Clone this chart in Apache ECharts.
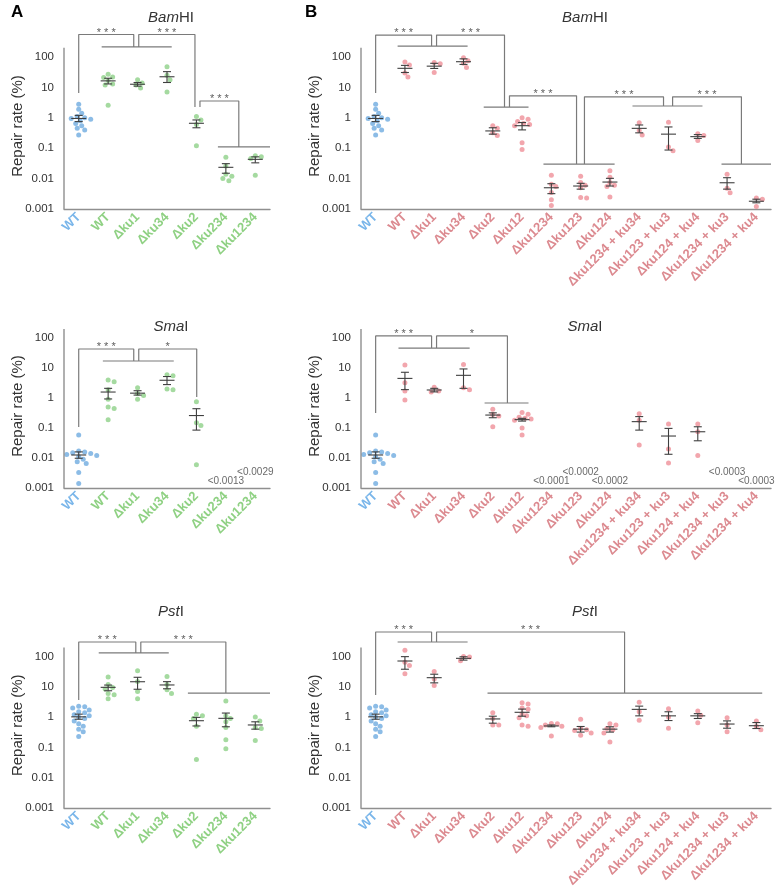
<!DOCTYPE html>
<html><head><meta charset="utf-8">
<script src="https://cdn.jsdelivr.net/npm/echarts@6/dist/echarts.min.js"></script>
<style>html,body{margin:0;padding:0;background:#fff}#c{width:775px;height:895px}</style>
</head><body><div id="c"></div>
<script>
// ---------- categories ----------
const catsA = ['WT','WT','Δku1','Δku34','Δku2','Δku234','Δku1234'];
const catsB = ['WT','WT','Δku1','Δku34','Δku2','Δku12','Δku1234','Δku123','Δku124',
  'Δku1234 + ku34','Δku123 + ku3','Δku124 + ku4','Δku1234 + ku3','Δku1234 + ku4'];
const yTicks = ['0.001','0.01','0.1','1','10','100'];

// ---------- BamHI ----------
const wtBam = [2.8,1.9,1.4,1.1,1.0,0.95,0.9,0.8,0.65,0.55,0.45,0.4,0.27];
const bamA_pts = [wtBam,[27,22,21,17,13,12,2.6],[18,14,12,9.5],[48,25,18,7],[1.1,0.85,0.6,0.12],
  [0.05,0.026,0.014,0.012,0.010,0.0085],[0.056,0.052,0.046,0.013]];
const bamA_mean = [0.95,16.4,12.7,22.4,0.66,0.0235,0.043];
const bamA_lo   = [0.75,13,11,14.5,0.47,0.015,0.033];
const bamA_hi   = [1.2,20,14.5,33,0.85,0.031,0.052];
const bamB_pts = [wtBam,[68,55,30,22],[66,60,31],[95,75,62,45],[0.55,0.45,0.32,0.26],
  [1.0,0.9,0.75,0.65,0.6,0.55,0.15,0.09],[0.013,0.0065,0.0055,0.0035,0.002,0.0013],
  [0.012,0.0075,0.006,0.005,0.0024,0.0023],[0.018,0.011,0.0075,0.006,0.0055,0.0025],
  [0.69,0.38,0.27],[0.71,0.11,0.083],[0.3,0.26,0.18],[0.014,0.0048,0.0034],[0.0023,0.0021,0.0012]];
const bamB_mean = [0.95,42.4,50,70,0.37,0.55,0.005,0.0057,0.0077,0.45,0.29,0.24,0.0073,0.0018];
const bamB_lo   = [0.75,30.9,42,57,0.29,0.40,0.0032,0.0045,0.0057,0.32,0.087,0.21,0.0045,0.0016];
const bamB_hi   = [1.2,53,62,87,0.47,0.70,0.0068,0.007,0.0102,0.58,0.5,0.28,0.0107,0.0021];

// ---------- SmaI ----------
const wtSma = [0.058,0.017,0.016,0.015,0.014,0.013,0.012,0.011,0.009,0.0075,0.0065,0.0033,0.0014];
const smaA_pts = [wtSma,[4.0,3.5,1.9,0.9,0.5,0.45,0.19],[2.2,1.4,1.2,0.9],[6.0,5.5,2.0,1.9],
  [0.75,0.15,0.12,0.006],[],[]];
const smaA_mean = [0.0126,1.58,1.45,3.9,0.26,null,null];
const smaA_lo   = [0.0098,0.93,1.25,2.8,0.085,null,null];
const smaA_hi   = [0.016,2.1,1.75,5.2,0.44,null,null];
const smaB_pts = [wtSma,[12.5,3.2,1.7,0.85],[2.3,1.7,1.6],[13,2.2,1.9],[0.42,0.28,0.25,0.11],
  [0.33,0.29,0.23,0.21,0.2,0.18,0.1,0.058],[],[],[],
  [0.3,0.18,0.027],[0.135,0.02,0.0068],[0.135,0.075,0.012],[],[]];
const smaB_mean = [0.0126,4.5,1.85,5.7,0.27,0.19,null,null,null,0.163,0.054,0.075,null,null];
const smaB_lo   = [0.0098,1.9,1.6,2.1,0.22,0.17,null,null,null,0.085,0.0133,0.0375,null,null];
const smaB_hi   = [0.016,7.2,2.1,9.3,0.32,0.21,null,null,null,0.24,0.097,0.11,null,null];
const smaA_notes = ['','','','','','<0.0013','<0.0029'];
const smaB_notes = ['','','','','','','<0.0001','<0.0002','<0.0002','','','','<0.0003','<0.0003'];

// ---------- PstI ----------
const wtPst = [2.3,2.2,2.0,1.7,1.5,1.4,1.2,1.1,1.0,0.9,0.75,0.6,0.5,0.4,0.33,0.23];
const pstA_pts = [wtPst,[21,12,9.5,8.5,6,5.5,4],[34,15,7,4],[22,12,8,6],[1.25,1.1,0.9,0.5,0.04],
  [3.4,1.1,0.9,0.7,0.45,0.18,0.09],[1.0,0.75,0.45,0.42,0.17]];
const pstA_mean = [1.02,9.6,14.7,11.5,0.76,0.91,0.55];
const pstA_lo   = [0.85,7.4,8.3,8.6,0.51,0.48,0.4];
const pstA_hi   = [1.25,11.4,20.6,14.8,0.98,1.36,0.7];
const pstB_pts = [wtPst,[160,65,50,27],[32,18,11],[100,96,72],[1.4,0.9,0.55,0.55],
  [3.0,2.7,2.0,1.8,1.3,1.1,0.95,0.55,0.5],[0.62,0.6,0.55,0.5,0.45,0.24],
  [0.85,0.42,0.38,0.36,0.3,0.25],[0.6,0.55,0.42,0.38,0.3,0.15],
  [3.1,1.5,0.78],[1.9,1.0,0.43],[1.6,1.15,0.65],[0.95,0.55,0.33],[0.75,0.5,0.38]];
const pstB_mean = [1.02,71,20,87,0.87,1.44,0.51,0.40,0.40,1.8,1.1,1.1,0.59,0.52];
const pstB_lo   = [0.85,38,13.5,76,0.63,1.07,0.48,0.32,0.32,1.1,0.77,0.9,0.43,0.42];
const pstB_hi   = [1.25,99,26,98,1.07,1.84,0.55,0.49,0.48,2.3,1.5,1.3,0.75,0.66];

// ---------- significance brackets (category units, data values) ----------
const bamA_br = [{x1:0,y0:6.5,top:550,x2:1.87,y1:215,t:'* * *'},{x1:2.04,y0:215,top:550,x2:3.95,y1:2.26,t:'* * *'},
  {x1:4.12,y0:2.26,top:3.57,x2:5.44,y1:0.11,t:'* * *'}];
const bamA_grp = [{a:0.78,b:3.16,y:215},{a:4.73,b:6.5,y:0.11}];
const bamB_br = [{x1:0,y0:6.5,top:525,x2:1.91,y1:229,t:'* * *'},{x1:2.08,y0:229,top:525,x2:4.40,y1:2.26,t:'* * *'},
  {x1:4.57,y0:2.26,top:5.3,x2:6.86,y1:0.030,t:'* * *'},{x1:7.13,y0:0.030,top:4.9,x2:9.83,y1:2.44,t:'* * *'},
  {x1:10.14,y0:2.44,top:4.9,x2:12.49,y1:0.030,t:'* * *'}];
const bamB_grp = [{a:0.75,b:3.14,y:229},{a:3.69,b:5.22,y:2.26},{a:5.73,b:8.16,y:0.030},{a:8.77,b:11.16,y:2.44},{a:11.81,b:13.5,y:0.030}];
const smaA_br = [{x1:0,y0:0.108,top:43,x2:1.87,y1:17.1,t:'* * *'},{x1:2.04,y0:17.1,top:43,x2:4.01,y1:1.08,t:'*'}];
const smaA_grp = [{a:0.82,b:3.23,y:17.1}];
const smaB_br = [{x1:0,y0:0.316,top:117,x2:1.91,y1:46,t:'* * *'},{x1:2.08,y0:46,top:117,x2:4.5,y1:0.68,t:'*'}];
const smaB_grp = [{a:0.78,b:3.21,y:46},{a:3.72,b:5.22,y:0.68}];
const pstA_br = [{x1:0,y0:3.67,top:301,x2:1.94,y1:131,t:'* * *'},{x1:2.11,y0:131,top:301,x2:5.0,y1:6.2,t:'* * *'}];
const pstA_grp = [{a:0.68,b:3.06,y:131},{a:3.71,b:6.5,y:6.2}];
const pstB_br = [{x1:0,y0:5.4,top:644,x2:1.91,y1:301,t:'* * *'},{x1:2.08,y0:301,top:644,x2:8.5,y1:6.2,t:'* * *'}];
const pstB_grp = [{a:0.75,b:3.14,y:301},{a:3.82,b:13.2,y:6.2}];

// ---------- layout & style ----------
const FONT = '"Liberation Sans", Arial, Helvetica, sans-serif';
const AX = '#8f8f8f', BR = '#7a7a7a', EB = '#3f3f3f';
const BLUE = '#6fabe0', GREEN = '#8fd188', PINK = '#ef9098';
const BLUE_L = '#7ab6ea', GREEN_L = '#8fd183', PINK_L = '#dc8a90';
const rows = [{B:209,d:30.4,ty:5,title:['Bam','HI']},{B:488,d:30,ty:314,title:['Sma','I']},{B:808,d:30.3,ty:599,title:['Pst','I']}];
const cols = [{left:64,width:206,tx:166,col:GREEN,lab:GREEN_L,letter:'A',lx:11},{left:361,width:410,tx:580,col:PINK,lab:PINK_L,letter:'B',lx:305}];

const panels = [
  {r:0,c:0,cats:catsA,pts:bamA_pts,mean:bamA_mean,lo:bamA_lo,hi:bamA_hi,br:bamA_br,grp:bamA_grp,notes:null},
  {r:0,c:1,cats:catsB,pts:bamB_pts,mean:bamB_mean,lo:bamB_lo,hi:bamB_hi,br:bamB_br,grp:bamB_grp,notes:null},
  {r:1,c:0,cats:catsA,pts:smaA_pts,mean:smaA_mean,lo:smaA_lo,hi:smaA_hi,br:smaA_br,grp:smaA_grp,notes:smaA_notes},
  {r:1,c:1,cats:catsB,pts:smaB_pts,mean:smaB_mean,lo:smaB_lo,hi:smaB_hi,br:smaB_br,grp:smaB_grp,notes:smaB_notes},
  {r:2,c:0,cats:catsA,pts:pstA_pts,mean:pstA_mean,lo:pstA_lo,hi:pstA_hi,br:pstA_br,grp:pstA_grp,notes:null},
  {r:2,c:1,cats:catsB,pts:pstB_pts,mean:pstB_mean,lo:pstB_lo,hi:pstB_hi,br:pstB_br,grp:pstB_grp,notes:null}
];

// deterministic beeswarm offsets (in pixels)
function swarm(vals, d) {
  const placed = [], off = new Array(vals.length).fill(0);
  const order = vals.map((v,i)=>i).sort((a,b)=>vals[b]-vals[a]);
  const s = 1.5, minD = 5;
  order.forEach(i => {
    const y = Math.log10(vals[i]) * d;
    for (let k = 0; k < 60; k++) {
      const x = k === 0 ? 0 : (k % 2 ? 1 : -1) * Math.ceil(k/2) * s;
      if (placed.every(p => Math.hypot(p.x - x, p.y - y) >= minD)) { placed.push({x,y}); off[i] = x; break; }
    }
  });
  return off;
}

const grid = [], xAxis = [], yAxis = [], series = [], title = [], graphic = [];
const lineBase = {type:'line', symbol:'none', silent:true, animation:false, z:3};
panels.forEach(p => {
  const r = rows[p.r], c = cols[p.c], n = p.cats.length, gi = grid.length;
  const step = c.width / n;
  grid.push({left:c.left, width:c.width, top:r.B - 5*r.d, height:5*r.d});
  grid.push({left:c.left, width:c.width, top:r.B - 6*r.d, height:6*r.d});
  xAxis.push({type:'category', gridIndex:gi,
    data:p.cats.map((t,i)=>({value:t, textStyle:{color: i===0 ? BLUE_L : c.lab}})),
    axisLine:{lineStyle:{color:AX, width:1.4}},
    axisTick:{alignWithLabel:true, length:4, lineStyle:{color:AX, width:1.2}},
    axisLabel:{rotate:45, interval:0, fontSize:13, fontWeight:'bold', fontFamily:FONT, margin:6},
    splitLine:{show:false}});
  xAxis.push({type:'value', gridIndex:gi+1, min:-0.5, max:n-0.5, show:false});
  yAxis.push({type:'log', logBase:10, gridIndex:gi, min:0.001, max:100,
    axisLine:{show:false}, axisTick:{length:6, lineStyle:{color:AX, width:1.2}},
    axisLabel:{fontSize:11.5, color:'#333', fontFamily:FONT, margin:10,
      formatter: v => { const s = String(Number(v.toPrecision(3))); return yTicks.includes(s) ? s : ''; }},
    splitLine:{show:false}});
  yAxis.push({type:'log', logBase:10, gridIndex:gi+1, min:0.001, max:1000, show:false});
  const ax = {xAxisIndex:gi+1, yAxisIndex:gi+1};

  // y axis line (extends a bit above 100)
  series.push(Object.assign({}, lineBase, ax, {clip:false, data:[[-0.5,0.001],[-0.5,200]], lineStyle:{color:AX, width:1.4}}));

  // points
  const pts = [];
  p.pts.forEach((vals, i) => {
    const off = swarm(vals, r.d);
    vals.forEach((v, j) => pts.push({value:[i + off[j]/step, v], itemStyle:{color: i===0 ? BLUE : c.col}}));
  });
  series.push(Object.assign({type:'scatter', symbolSize:5, silent:true, animation:false, z:2, data:pts}, ax));

  // mean ± SEM
  const eb = [];
  p.mean.forEach((m, i) => { if (m != null) eb.push([i, m, p.lo[i], p.hi[i]]); });
  series.push(Object.assign({type:'custom', silent:true, animation:false, z:4, data:eb, encode:{x:0, y:[1,2,3]},
    renderItem: (params, api) => {
      const x = api.value(0);
      const pm = api.coord([x, api.value(1)]), pl = api.coord([x, api.value(2)]), ph = api.coord([x, api.value(3)]);
      const st = {stroke:EB, lineWidth:1.1, fill:null};
      const L = (x1,y1,x2,y2) => ({type:'line', shape:{x1,y1,x2,y2}, style:st});
      return {type:'group', children:[
        L(pm[0]-7.5, pm[1], pm[0]+7.5, pm[1]),
        L(ph[0], ph[1], pl[0], pl[1]),
        L(ph[0]-4, ph[1], ph[0]+4, ph[1]),
        L(pl[0]-4, pl[1], pl[0]+4, pl[1])
      ]};
    }}, ax));

  // brackets
  p.br.forEach(b => series.push(Object.assign({}, lineBase, ax,
    {data:[[b.x1,b.y0],[b.x1,b.top],[b.x2,b.top],[b.x2,b.y1]], lineStyle:{color:BR, width:1.2}})));
  p.grp.forEach(g => series.push(Object.assign({}, lineBase, ax,
    {data:[[g.a,g.y],[g.b,g.y]], lineStyle:{color:BR, width:1.2}})));
  series.push(Object.assign({type:'scatter', symbolSize:0, silent:true, animation:false, z:5,
    data:p.br.map(b => ({value:[(b.x1+b.x2)/2, b.top], label:{formatter:b.t}})),
    label:{show:true, position:'inside', offset:[0,-2], color:'#333', fontSize:11, fontFamily:FONT}}, ax));

  // "<x" notes for undetected strains, staggered in two levels
  if (p.notes) {
    let k = 0;
    const nd = [];
    p.notes.forEach((t, i) => { if (t) { nd.push({value:[i, k % 2 ? 0.0034 : 0.0017], label:{formatter:t}}); k++; } });
    series.push(Object.assign({type:'scatter', symbolSize:0, silent:true, animation:false, z:5, data:nd,
      label:{show:true, position:'inside', color:'#444', fontSize:10, fontFamily:FONT}}, ax));
  }

  // titles & y-axis names
  title.push({text:'{i|' + r.title[0] + '}' + r.title[1], left:c.tx, top:r.ty, textAlign:'center',
    textStyle:{fontSize:15, fontWeight:'normal', color:'#333', fontFamily:FONT,
      rich:{i:{fontStyle:'italic', fontSize:15, color:'#333', fontFamily:FONT}}}});
  graphic.push({type:'text', x:c.left - 46, y:r.B - 2.5*r.d - 7, rotation:Math.PI/2,
    style:{text:'Repair rate (%)', fontSize:15, fill:'#333', fontFamily:FONT, align:'center', verticalAlign:'middle'}});
});
cols.forEach(c => graphic.push({type:'text', x:c.lx, y:4, style:{text:c.letter, fontSize:17, fontWeight:'bold', fill:'#000', fontFamily:FONT}}));

const chart = echarts.init(document.getElementById('c'));
chart.setOption({animation:false, backgroundColor:'#fff', grid, xAxis, yAxis, series, title, graphic});
</script></body></html>
